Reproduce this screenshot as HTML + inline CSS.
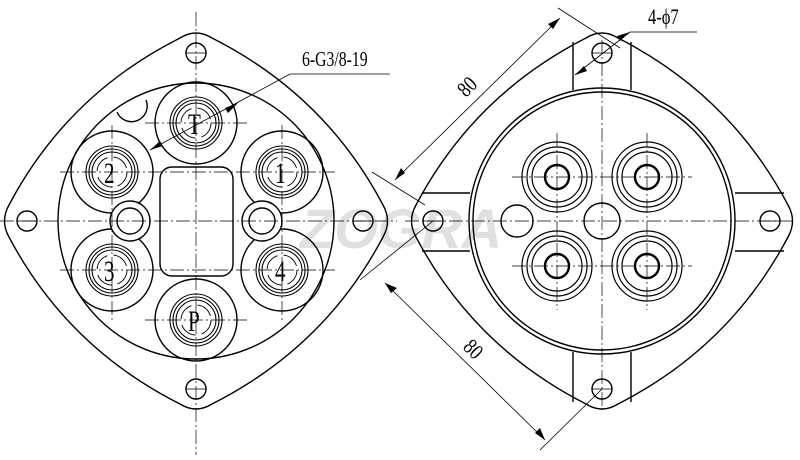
<!DOCTYPE html>
<html><head><meta charset="utf-8"><style>
html,body{margin:0;padding:0;background:#fff}
svg{display:block}
text{font-family:"Liberation Serif",serif}
</style></head><body>
<svg width="800" height="460" viewBox="0 0 800 460" xmlns="http://www.w3.org/2000/svg">
<text x="300" y="248" font-size="56" font-weight="bold" font-style="italic" fill="#e0e0e0" style="font-family:'Liberation Sans',sans-serif">ZOGRA</text>
<g fill="none" stroke="#000" stroke-width="1.4">
<path d="M180,38 Q196,28 212,38 Q325,95 383,205 Q392,221 383,237 Q325,347 212,404 Q196,414 180,404 Q67,347 9,237 Q0,221 9,205 Q67,95 180,38Z"/>
<circle cx="196" cy="53" r="10"/><circle cx="196" cy="389" r="10"/>
<circle cx="27" cy="221" r="10"/><circle cx="363" cy="221" r="10"/>
<circle cx="196" cy="221" r="138"/>
<path d="M117,112 A15,15 0 0,0 146,100" />
<rect x="160" y="167" width="73" height="109" rx="12"/>
<g>
<circle cx="196" cy="123" r="41"/><circle cx="196" cy="320" r="41"/>
<circle cx="112" cy="172" r="41"/><circle cx="282" cy="172" r="41"/>
<circle cx="112" cy="270" r="41"/><circle cx="282" cy="270" r="41"/>
</g>
<g stroke-width="1.1">
<circle cx="196" cy="123" r="26"/><circle cx="196" cy="123" r="23"/><circle cx="196" cy="123" r="20"/>
<circle cx="196" cy="320" r="26"/><circle cx="196" cy="320" r="23"/><circle cx="196" cy="320" r="20"/>
<circle cx="112" cy="172" r="26"/><circle cx="112" cy="172" r="23"/><circle cx="112" cy="172" r="20"/>
<circle cx="282" cy="172" r="26"/><circle cx="282" cy="172" r="23"/><circle cx="282" cy="172" r="20"/>
<circle cx="112" cy="270" r="26"/><circle cx="112" cy="270" r="23"/><circle cx="112" cy="270" r="20"/>
<circle cx="282" cy="270" r="26"/><circle cx="282" cy="270" r="23"/><circle cx="282" cy="270" r="20"/>
</g>
<g stroke-width="0.9" stroke-dasharray="18,6">
<circle cx="196" cy="123" r="15"/><circle cx="196" cy="320" r="15"/>
<circle cx="112" cy="172" r="15"/><circle cx="282" cy="172" r="15"/>
<circle cx="112" cy="270" r="15"/><circle cx="282" cy="270" r="15"/>
</g>
<circle cx="130" cy="221" r="20" fill="#fff"/><circle cx="130" cy="221" r="13"/>
<circle cx="262" cy="221" r="20" fill="#fff"/><circle cx="262" cy="221" r="13"/>
<path d="M586,38 Q602,28 618,38 Q730,95 788,205 Q797,221 788,237 Q730,347 618,404 Q602,414 586,404 Q474,347 416,237 Q407,221 416,205 Q474,95 586,38Z"/>
<circle cx="602" cy="221" r="133"/><circle cx="602" cy="221" r="129"/>
<path d="M573,42 V90 M631,42 V90 M573,352 V402 M631,352 V402 M422,193 H470 M422,251 H470 M735,193 H784 M735,251 H784"/>
<circle cx="602" cy="53" r="10"/><circle cx="602" cy="389" r="10"/>
<circle cx="433" cy="221" r="10"/><circle cx="770" cy="221" r="10"/>
<g stroke-width="1.2">
<circle cx="557" cy="177" r="35"/><circle cx="557" cy="177" r="30"/><circle cx="557" cy="177" r="25"/>
<circle cx="647" cy="177" r="35"/><circle cx="647" cy="177" r="30"/><circle cx="647" cy="177" r="25"/>
<circle cx="557" cy="266" r="35"/><circle cx="557" cy="266" r="30"/><circle cx="557" cy="266" r="25"/>
<circle cx="647" cy="266" r="35"/><circle cx="647" cy="266" r="30"/><circle cx="647" cy="266" r="25"/>
</g>
<g stroke-width="2.4">
<circle cx="557" cy="177" r="12"/><circle cx="647" cy="177" r="12"/>
<circle cx="557" cy="266" r="12"/><circle cx="647" cy="266" r="12"/>
</g>
<circle cx="517" cy="221" r="16"/><circle cx="602" cy="221" r="18"/>
</g>
<g stroke="#000" stroke-width="0.7" stroke-dasharray="14,3,2,3" fill="none">
<path d="M196,12 V455 M0,221 H397 M60,172 H335 M60,270 H335 M145,123 H247 M145,320 H247 M112,125 V320 M282,125 V320"/>
<path d="M405,221 H795 M602,40 V410 M512,177 H692 M512,266 H692 M557,133 V310 M647,133 V310"/>
</g>
<g stroke="#000" stroke-width="0.8" fill="none">
<path d="M186,53 H206 M186,389 H206 M17,221 H37 M353,221 H373 M592,53 H612 M592,389 H612 M423,221 H443 M760,221 H780"/>
<path d="M290,74 H390 M290,74 L150,150"/>
<path d="M630,32 H697 M630,32 L575,75"/>
<path d="M395,180 L560,18 M425,205 L372,172 M620,48 L558,8"/>
<path d="M385,283 L545,440 M433,221 L360,280 M602,389 L540,450"/>
</g>
<g fill="#000">
<polygon points="150,150 160,141 163,146"/>
<polygon points="238,103 228,113 225,108"/>
<polygon points="575,75 584,66 587,71"/>
<polygon points="630,32 620,41 617,36"/>
<polygon points="395,180 401,168 405,173"/>
<polygon points="560,18 548,24 553,29"/>
<polygon points="385,283 397,288 391,293"/>
<polygon points="545,440 540,428 535,433"/>
</g>
<g fill="#000">
<text transform="translate(302,66) scale(0.75,1)" font-size="21">6-G3/8-19</text>
<text transform="translate(648,24) scale(0.75,1)" font-size="22">4-ϕ7</text>
<text transform="translate(466,98) rotate(-45) scale(0.8,1)" font-size="22">80</text>
<text transform="translate(462,348) rotate(45) scale(0.8,1)" font-size="22">80</text>
<text transform="translate(188,134) scale(0.7,1)" font-size="30">T</text>
<text transform="translate(188,331) scale(0.7,1)" font-size="30">P</text>
<text transform="translate(104,183) scale(0.7,1)" font-size="30">2</text>
<text transform="translate(275,183) scale(0.7,1)" font-size="30">1</text>
<text transform="translate(104,281) scale(0.7,1)" font-size="30">3</text>
<text transform="translate(275,281) scale(0.7,1)" font-size="30">4</text>
</g>
</svg>
</body></html>
